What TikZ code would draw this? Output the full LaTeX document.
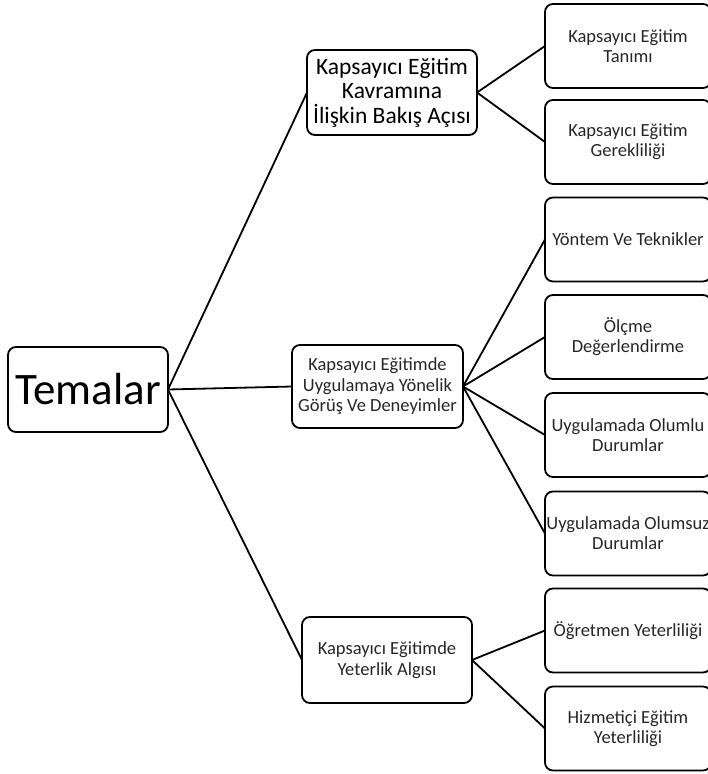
\documentclass[tikz,border=0pt]{standalone}
\usepackage{fontspec}
\setmainfont{Carlito}
\tikzset{
	theme tree/.is family,
	theme tree/.cd,
	box/.style = {
		draw = black,
		line width = 1.8pt,
		rounded corners = 8pt,
		align = center,
		inner sep = 2pt,
		outer sep = 0pt,
	},
	root/.style = {
		theme tree/box,
		minimum width = 160pt,
		minimum height = 85pt,
		font = \fontsize{45}{50}\selectfont,
	},
	branch/.style = {
		theme tree/box,
		minimum width = 170pt,
		minimum height = 85pt,
		text = black!85,
		font = \fontsize{18.5}{20.5}\selectfont,
	},
	leaf/.style = {
		theme tree/box,
		inner xsep = 0pt,
		minimum width = 166pt,
		minimum height = 84pt,
		text = black!85,
		font = \fontsize{18.5}{20}\selectfont,
	},
	link/.style = {
		line width = 1.8pt,
		line cap = round,
	},
}

\begin{document}
\begin{tikzpicture}[x = 1pt, y = -1pt]
		\useasboundingbox (0, 0) rectangle (708, 774);
		\clip (0, 0) rectangle (708, 774);

		\node[theme tree/root] (temalar) at (88, 389.5) {Temalar};

		\node[theme tree/branch, text = black, font = \fontsize{23.5}{24.5}\selectfont] (kavram) at (392, 92.5) {Kapsayıcı Eğitim\\Kavramına\\İlişkin Bakış Açısı};
		\node[theme tree/branch, minimum width = 171pt, minimum height = 83pt] (uygulama) at (377.5, 386.5) {Kapsayıcı Eğitimde\\Uygulamaya Yönelik\\Görüş Ve Deneyimler};
		\node[theme tree/branch, minimum height = 86pt] (yeterlik) at (387, 660) {Kapsayıcı Eğitimde\\Yeterlik Algısı};

		\node[theme tree/leaf] (tanim) at (628, 46) {Kapsayıcı Eğitim\\Tanımı};
		\node[theme tree/leaf] (gereklilik) at (628, 142) {Kapsayıcı Eğitim\\Gerekliliği};
		\node[theme tree/leaf] (yontem) at (628, 239.5) {Yöntem Ve Teknikler};
		\node[theme tree/leaf] (olcme) at (628, 337) {Ölçme\\Değerlendirme};
		\node[theme tree/leaf] (olumlu) at (628, 435) {Uygulamada Olumlu\\Durumlar};
		\node[theme tree/leaf] (olumsuz) at (628, 533.5) {Uygulamada Olumsuz\\Durumlar};
		\node[theme tree/leaf] (ogretmen) at (628, 630.5) {Öğretmen Yeterliliği};
		\node[theme tree/leaf] (hizmetici) at (628, 728.5) {Hizmetiçi Eğitim\\Yeterliliği};

		\draw[theme tree/link] (temalar.east) -- (kavram.west);
		\draw[theme tree/link] (temalar.east) -- (uygulama.west);
		\draw[theme tree/link] (temalar.east) -- (yeterlik.west);

		\draw[theme tree/link] (kavram.east) -- (tanim.west);
		\draw[theme tree/link] (kavram.east) -- (gereklilik.west);
		\draw[theme tree/link] (uygulama.east) -- (yontem.west);
		\draw[theme tree/link] (uygulama.east) -- (olcme.west);
		\draw[theme tree/link] (uygulama.east) -- (olumlu.west);
		\draw[theme tree/link] (uygulama.east) -- (olumsuz.west);
		\draw[theme tree/link] (yeterlik.east) -- (ogretmen.west);
		\draw[theme tree/link] (yeterlik.east) -- (hizmetici.west);
	\end{tikzpicture}
\end{document}
